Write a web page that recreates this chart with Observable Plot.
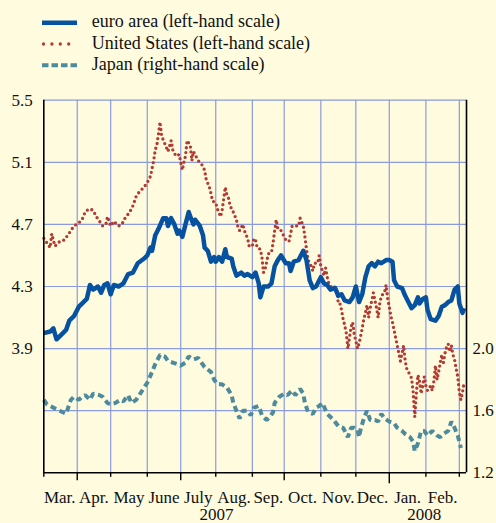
<!DOCTYPE html>
<html><head><meta charset="utf-8">
<script src="https://cdn.jsdelivr.net/npm/d3@7"></script>
<script src="https://cdn.jsdelivr.net/npm/@observablehq/plot@0.6"></script>
<style>
html,body{margin:0;padding:0;background:#fefbdf;}
body{width:496px;height:523px;overflow:hidden;font-family:"Liberation Serif","Times New Roman",serif;}
#legend{width:496px;height:85px;}
#legend svg,#chart svg{display:block;}
</style></head><body>
<div id="legend"></div><div id="chart"></div>
<script>
// ---- data (x = trading-day number counted from 1 March 2007) ----
const seriesLabels = ["euro area (left-hand scale)", "United States (left-hand scale)", "Japan (right-hand scale)"];
const monthNames = ["Mar.","Apr.","May","June","July","Aug.","Sep.","Oct.","Nov.","Dec.","Jan.","Feb."];
const yearNames = ["2007","2008"];
const leftTicks = [3.9, 4.3, 4.7, 5.1, 5.5];
const leftGrid = [3.5, 3.9, 4.3, 4.7, 5.1, 5.5];
const rightTicks = [1.2, 1.6, 2.0];
const JP_OFFSET = 1.9; // right-hand scale = left-hand scale - 1.9

const euroDay = [1,5,7,9,13,15,17,20,23,25,28,30,32,35,37,39,41,43,45,48,51,52,54,57,60,64,66,68,69,71,73,76,78,79,81,83,85,86,88,90,92,93,95,96,99,101,102,104,106,108,109,111,113,115,116,119,120,122,125,127,129,132,134,136,137,139,142,144,146,148,150,153,155,156,158,161,164,166,168,170,172,175,177,179,181,184,186,188,190,193,195,197,199,201,203,205,207,209,211,213,216,218,220,221,223,226,228,230,232,234,236,237,239,241,242,244,247,249,251,253,255,257,259,261,262,264,265];
const euroVal = [4.00,4.01,4.03,3.96,4.00,4.02,4.08,4.11,4.17,4.19,4.22,4.31,4.28,4.30,4.26,4.31,4.32,4.25,4.31,4.30,4.32,4.34,4.38,4.39,4.45,4.48,4.50,4.55,4.53,4.63,4.67,4.74,4.74,4.69,4.74,4.70,4.64,4.66,4.62,4.70,4.78,4.75,4.70,4.73,4.69,4.63,4.55,4.53,4.46,4.49,4.46,4.49,4.46,4.54,4.49,4.48,4.43,4.37,4.39,4.37,4.38,4.36,4.39,4.32,4.23,4.30,4.30,4.32,4.43,4.47,4.50,4.45,4.45,4.40,4.46,4.47,4.53,4.47,4.34,4.29,4.30,4.36,4.32,4.31,4.28,4.29,4.24,4.25,4.21,4.20,4.23,4.30,4.20,4.25,4.36,4.43,4.45,4.43,4.46,4.45,4.47,4.47,4.46,4.34,4.30,4.29,4.24,4.20,4.16,4.18,4.23,4.19,4.22,4.23,4.15,4.09,4.08,4.11,4.17,4.18,4.20,4.21,4.28,4.30,4.19,4.13,4.16];

const usData = [[1,4.61],[3,4.58],[5,4.55],[6,4.64],[8,4.56],[11,4.59],[14,4.60],[16,4.63],[18,4.66],[20,4.69],[23,4.71],[25,4.73],[27,4.78],[28,4.79],[30,4.80],[32,4.79],[34,4.75],[36,4.72],[38,4.69],[40,4.70],[41,4.75],[43,4.69],[45,4.72],[48,4.69],[50,4.70],[52,4.74],[55,4.78],[57,4.82],[59,4.88],[61,4.91],[64,4.94],[66,4.97],[68,5.01],[69,5.06],[70,5.11],[71,5.18],[72,5.21],[73,5.28],[74,5.36],[75,5.27],[77,5.22],[79,5.17],[81,5.24],[82,5.18],[84,5.14],[86,5.15],[87,5.10],[88,5.05],[89,5.10],[90,5.14],[91,5.24],[93,5.21],[94,5.11],[95,5.17],[98,5.11],[100,5.09],[102,5.05],[103,4.99],[105,4.94],[106,4.90],[107,4.85],[109,4.84],[110,4.80],[112,4.75],[113,4.79],[115,4.94],[116,4.89],[117,4.87],[118,4.82],[120,4.78],[122,4.73],[123,4.68],[124,4.66],[126,4.70],[127,4.66],[129,4.61],[130,4.56],[132,4.56],[133,4.61],[134,4.60],[135,4.55],[137,4.54],[138,4.49],[139,4.39],[140,4.41],[141,4.46],[142,4.51],[144,4.52],[145,4.58],[146,4.66],[147,4.73],[148,4.67],[150,4.66],[152,4.62],[153,4.60],[155,4.59],[156,4.64],[157,4.69],[161,4.69],[162,4.74],[164,4.69],[165,4.62],[166,4.54],[167,4.47],[169,4.43],[170,4.40],[171,4.45],[173,4.45],[174,4.50],[175,4.43],[177,4.37],[178,4.42],[179,4.36],[180,4.32],[182,4.29],[183,4.30],[185,4.28],[186,4.19],[187,4.19],[188,4.15],[189,4.09],[190,4.05],[191,4.00],[192,3.90],[193,3.97],[194,4.04],[195,4.07],[196,3.99],[197,3.95],[198,3.90],[199,3.93],[200,3.98],[201,4.03],[202,4.09],[203,4.13],[204,4.18],[205,4.10],[206,4.16],[207,4.21],[208,4.26],[209,4.21],[210,4.16],[211,4.10],[212,4.19],[213,4.24],[215,4.26],[216,4.31],[217,4.22],[218,4.17],[219,4.11],[220,4.07],[221,4.02],[222,3.97],[223,3.92],[224,3.87],[225,3.82],[226,3.87],[227,3.92],[228,3.82],[229,3.77],[230,3.75],[231,3.73],[232,3.71],[233,3.62],[234,3.46],[235,3.61],[236,3.73],[237,3.69],[238,3.61],[239,3.66],[240,3.72],[241,3.66],[242,3.63],[244,3.66],[245,3.63],[246,3.69],[247,3.79],[248,3.70],[249,3.75],[250,3.81],[251,3.86],[252,3.81],[253,3.87],[254,3.91],[255,3.93],[256,3.88],[257,3.92],[258,3.86],[259,3.83],[260,3.77],[261,3.72],[262,3.62],[263,3.57],[264,3.62],[265,3.68]];

const jpData = [[1,1.67],[3,1.64],[7,1.62],[11,1.60],[15,1.58],[16,1.61],[18,1.67],[20,1.69],[23,1.67],[25,1.69],[27,1.70],[30,1.67],[32,1.71],[36,1.70],[38,1.69],[41,1.65],[43,1.64],[46,1.65],[49,1.67],[51,1.66],[54,1.70],[56,1.65],[59,1.67],[61,1.70],[64,1.75],[66,1.78],[69,1.85],[71,1.90],[74,1.96],[77,1.95],[79,1.92],[82,1.91],[85,1.90],[87,1.89],[90,1.91],[92,1.95],[95,1.93],[98,1.94],[100,1.91],[102,1.88],[106,1.85],[108,1.80],[110,1.77],[113,1.77],[116,1.75],[119,1.70],[120,1.65],[122,1.60],[124,1.55],[126,1.60],[129,1.60],[131,1.57],[133,1.62],[136,1.63],[138,1.57],[141,1.54],[143,1.56],[145,1.59],[146,1.65],[149,1.69],[152,1.71],[154,1.70],[157,1.73],[159,1.70],[162,1.74],[164,1.71],[165,1.65],[167,1.59],[170,1.58],[172,1.62],[174,1.63],[176,1.65],[179,1.58],[183,1.54],[186,1.50],[189,1.49],[192,1.43],[194,1.49],[196,1.49],[198,1.48],[199,1.43],[200,1.48],[202,1.55],[204,1.60],[206,1.54],[209,1.54],[211,1.53],[213,1.58],[215,1.55],[218,1.53],[221,1.52],[223,1.49],[226,1.47],[228,1.45],[231,1.43],[233,1.40],[234,1.34],[236,1.39],[238,1.47],[240,1.47],[242,1.44],[245,1.47],[248,1.44],[250,1.43],[252,1.45],[255,1.47],[257,1.53],[259,1.49],[261,1.44],[262,1.40],[263,1.36]];

// ---- styles ----
const BLUE = "#0652a0", RED = "#b23a30", TEAL = "#4d8a9c", GRID = "#8b9bdd";
const FONT = "Liberation Serif, Times New Roman, serif";

// ---- legend ----
const legendStyles = [
  {stroke: BLUE, width: 4.5, dash: null, cap: "butt"},
  {stroke: RED, width: 3.3, dash: "0 8.4", cap: "round"},
  {stroke: TEAL, width: 4, dash: "6.5 3", cap: "butt"}
];
let lg = `<svg width="496" height="85" xmlns="http://www.w3.org/2000/svg" font-family="${FONT}" font-size="18">`;
seriesLabels.forEach((lab, i) => {
  const s = legendStyles[i];
  const yy = 22.7 + i * 21.3;
  const x1 = s.cap === "round" ? 43.5 : 42;
  lg += `<line x1="${x1}" x2="77" y1="${yy}" y2="${yy}" stroke="${s.stroke}" stroke-width="${s.width}" stroke-linecap="${s.cap}"${s.dash ? ` stroke-dasharray="${s.dash}"` : ""}/>`;
  lg += `<text x="91.7" y="${yy + 4.5}" fill="#111">${lab}</text>`;
});
lg += `</svg>`;
document.getElementById("legend").innerHTML = lg;

// ---- derived tables ----
const euro = euroDay.map((d, i) => ({day: d, v: euroVal[i]}));
const us = usData.map(([d, v]) => ({day: d, v}));
const jp = jpData.map(([d, v]) => ({day: d, v: v + JP_OFFSET}));

const start = new Date(2007, 2, 1);
// trading-day number of the first weekday on or after the given date
const dayIdx = date => d3.timeDay.range(start, date).filter(d => d.getDay() !== 0 && d.getDay() !== 6).length;
const monthDates = d3.timeMonth.range(new Date(2007, 2, 1), new Date(2008, 2, 2)); // Mar 2007 .. Mar 2008
const bounds = monthDates.map(dayIdx);
const X0 = 1, X1 = 266.5;
const Y0 = 3.1, Y1 = 5.5;
const plotH = 438 - 14.7 - 50.7;
const pxToY = px => px * (Y1 - Y0) / plotH;

const gridX = bounds.filter(b => b > X0);
const tickData = monthDates.map((d, i) => {
  const m = d.getMonth();
  const len = m === 0 ? 11 : (m % 3 === 0 ? 8 : 4.5);
  return {x: Math.max(bounds[i], X0), len};
});
const monthLabels = monthNames.map((name, i) => ({x: (bounds[i] + bounds[i + 1]) / 2, name}));
const jan08 = bounds[10], mar08 = bounds[12];
const yearLabels = [
  {x: (X0 + jan08) / 2, name: yearNames[0]},
  {x: (jan08 + mar08) / 2, name: yearNames[1]}
];

const chart = Plot.plot({
  width: 496, height: 438,
  marginLeft: 43.3, marginRight: 30, marginTop: 14.7, marginBottom: 50.7,
  x: {type: "linear", domain: [X0, X1], axis: null},
  y: {type: "linear", domain: [Y0, Y1], axis: null},
  style: {background: "transparent", fontFamily: FONT, fontSize: "17px", color: "#111", overflow: "visible"},
  marks: [
    Plot.ruleY(leftGrid, {stroke: GRID, strokeWidth: 1.2}),
    Plot.ruleX(gridX, {stroke: GRID, strokeWidth: 1.2}),
    Plot.line(jp, {x: "day", y: "v", stroke: TEAL, strokeWidth: 4, strokeDasharray: "6 3.8", strokeLinecap: "butt", strokeLinejoin: "miter"}),
    Plot.line(us, {x: "day", y: "v", stroke: RED, strokeWidth: 3.3, strokeDasharray: "0 4.9", strokeLinecap: "round"}),
    Plot.line(euro, {x: "day", y: "v", stroke: BLUE, strokeWidth: 4.5, strokeLinecap: "butt", strokeLinejoin: "round"}),
    Plot.ruleX([X0, X1], {stroke: "#000", strokeWidth: 1.6}),
    Plot.ruleY([Y0], {stroke: "#000", strokeWidth: 1.4}),
    Plot.ruleX(tickData, {x: "x", y1: Y0, y2: d => Y0 - pxToY(d.len), stroke: "#000", strokeWidth: 1.4}),
    Plot.axisY(leftTicks, {anchor: "left", label: null, tickSize: 0, tickPadding: 11, fontSize: 17, tickFormat: d => d.toFixed(1)}),
    Plot.axisY(rightTicks.map(r => r + JP_OFFSET), {anchor: "right", label: null, tickSize: 0, tickPadding: 6, fontSize: 17, tickFormat: d => (d - JP_OFFSET).toFixed(1)}),
    Plot.text(monthLabels, {x: "x", y: () => Y0, text: "name", dy: 24.3, fontSize: 17, fill: "#111"}),
    Plot.text(yearLabels, {x: "x", y: () => Y0, text: "name", dy: 41.5, fontSize: 17, fill: "#111"})
  ]
});
document.getElementById("chart").appendChild(chart);
</script></body></html>
